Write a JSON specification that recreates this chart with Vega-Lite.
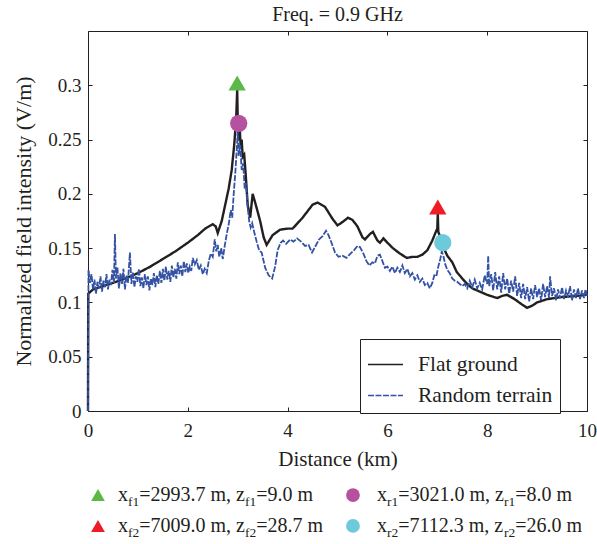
{
  "$schema": "https://vega.github.io/schema/vega-lite/v6.json",
  "width": 499,
  "height": 380,
  "autosize": {"type": "none"},
  "padding": {"left": 88, "top": 31, "right": 10, "bottom": 133},
  "title": {"text": "Freq. = 0.9 GHz", "fontSize": 20, "fontWeight": "normal", "font": "Liberation Serif", "color": "#231f20", "offset": 6, "anchor": "middle"},
  "config": {
    "font": "Liberation Serif",
    "view": {"stroke": "#231f20", "strokeWidth": 1},
    "axis": {"grid": false, "domain": false, "labelFlush": false, "tickColor": "#231f20", "labelColor": "#231f20", "titleColor": "#231f20", "titleFontWeight": "normal", "labelFont": "Liberation Serif", "titleFont": "Liberation Serif"},
    "legend": {"labelFont": "Liberation Serif"}
  },
  "datasets": {
    "lines": [
      {"d": 0, "v": 0, "s": "Flat ground"},
      {"d": 0.005, "v": 0.108, "s": "Flat ground"},
      {"d": 0.1, "v": 0.112, "s": "Flat ground"},
      {"d": 0.3, "v": 0.115, "s": "Flat ground"},
      {"d": 0.5, "v": 0.118, "s": "Flat ground"},
      {"d": 0.75, "v": 0.122, "s": "Flat ground"},
      {"d": 1.0, "v": 0.127, "s": "Flat ground"},
      {"d": 1.25, "v": 0.133, "s": "Flat ground"},
      {"d": 1.5, "v": 0.14, "s": "Flat ground"},
      {"d": 1.75, "v": 0.147, "s": "Flat ground"},
      {"d": 2.0, "v": 0.155, "s": "Flat ground"},
      {"d": 2.2, "v": 0.162, "s": "Flat ground"},
      {"d": 2.35, "v": 0.168, "s": "Flat ground"},
      {"d": 2.5, "v": 0.172, "s": "Flat ground"},
      {"d": 2.56, "v": 0.17, "s": "Flat ground"},
      {"d": 2.6, "v": 0.164, "s": "Flat ground"},
      {"d": 2.68, "v": 0.175, "s": "Flat ground"},
      {"d": 2.75, "v": 0.19, "s": "Flat ground"},
      {"d": 2.82, "v": 0.205, "s": "Flat ground"},
      {"d": 2.88, "v": 0.222, "s": "Flat ground"},
      {"d": 2.93, "v": 0.245, "s": "Flat ground"},
      {"d": 2.97, "v": 0.27, "s": "Flat ground"},
      {"d": 2.99, "v": 0.296, "s": "Flat ground"},
      {"d": 3.0, "v": 0.27, "s": "Flat ground"},
      {"d": 3.02, "v": 0.25, "s": "Flat ground"},
      {"d": 3.04, "v": 0.262, "s": "Flat ground"},
      {"d": 3.06, "v": 0.242, "s": "Flat ground"},
      {"d": 3.08, "v": 0.25, "s": "Flat ground"},
      {"d": 3.1, "v": 0.234, "s": "Flat ground"},
      {"d": 3.13, "v": 0.236, "s": "Flat ground"},
      {"d": 3.16, "v": 0.218, "s": "Flat ground"},
      {"d": 3.2, "v": 0.19, "s": "Flat ground"},
      {"d": 3.25, "v": 0.178, "s": "Flat ground"},
      {"d": 3.3, "v": 0.2, "s": "Flat ground"},
      {"d": 3.35, "v": 0.192, "s": "Flat ground"},
      {"d": 3.45, "v": 0.175, "s": "Flat ground"},
      {"d": 3.52, "v": 0.16, "s": "Flat ground"},
      {"d": 3.58, "v": 0.153, "s": "Flat ground"},
      {"d": 3.7, "v": 0.162, "s": "Flat ground"},
      {"d": 3.85, "v": 0.167, "s": "Flat ground"},
      {"d": 4.0, "v": 0.168, "s": "Flat ground"},
      {"d": 4.1, "v": 0.168, "s": "Flat ground"},
      {"d": 4.3, "v": 0.178, "s": "Flat ground"},
      {"d": 4.5, "v": 0.19, "s": "Flat ground"},
      {"d": 4.6, "v": 0.192, "s": "Flat ground"},
      {"d": 4.75, "v": 0.188, "s": "Flat ground"},
      {"d": 4.9, "v": 0.177, "s": "Flat ground"},
      {"d": 5.0, "v": 0.171, "s": "Flat ground"},
      {"d": 5.1, "v": 0.174, "s": "Flat ground"},
      {"d": 5.21, "v": 0.178, "s": "Flat ground"},
      {"d": 5.3, "v": 0.176, "s": "Flat ground"},
      {"d": 5.4, "v": 0.17, "s": "Flat ground"},
      {"d": 5.5, "v": 0.16, "s": "Flat ground"},
      {"d": 5.55, "v": 0.158, "s": "Flat ground"},
      {"d": 5.65, "v": 0.163, "s": "Flat ground"},
      {"d": 5.71, "v": 0.165, "s": "Flat ground"},
      {"d": 5.8, "v": 0.157, "s": "Flat ground"},
      {"d": 5.85, "v": 0.155, "s": "Flat ground"},
      {"d": 5.92, "v": 0.159, "s": "Flat ground"},
      {"d": 6.0, "v": 0.155, "s": "Flat ground"},
      {"d": 6.11, "v": 0.15, "s": "Flat ground"},
      {"d": 6.25, "v": 0.145, "s": "Flat ground"},
      {"d": 6.39, "v": 0.141, "s": "Flat ground"},
      {"d": 6.5, "v": 0.142, "s": "Flat ground"},
      {"d": 6.6, "v": 0.142, "s": "Flat ground"},
      {"d": 6.7, "v": 0.144, "s": "Flat ground"},
      {"d": 6.8, "v": 0.148, "s": "Flat ground"},
      {"d": 6.9, "v": 0.157, "s": "Flat ground"},
      {"d": 6.97, "v": 0.165, "s": "Flat ground"},
      {"d": 7.0, "v": 0.168, "s": "Flat ground"},
      {"d": 7.01, "v": 0.182, "s": "Flat ground"},
      {"d": 7.02, "v": 0.165, "s": "Flat ground"},
      {"d": 7.08, "v": 0.158, "s": "Flat ground"},
      {"d": 7.15, "v": 0.148, "s": "Flat ground"},
      {"d": 7.2, "v": 0.143, "s": "Flat ground"},
      {"d": 7.3, "v": 0.137, "s": "Flat ground"},
      {"d": 7.39, "v": 0.128, "s": "Flat ground"},
      {"d": 7.5, "v": 0.122, "s": "Flat ground"},
      {"d": 7.6, "v": 0.117, "s": "Flat ground"},
      {"d": 7.7, "v": 0.113, "s": "Flat ground"},
      {"d": 7.85, "v": 0.11, "s": "Flat ground"},
      {"d": 8.0, "v": 0.107, "s": "Flat ground"},
      {"d": 8.2, "v": 0.104, "s": "Flat ground"},
      {"d": 8.3, "v": 0.106, "s": "Flat ground"},
      {"d": 8.4, "v": 0.107, "s": "Flat ground"},
      {"d": 8.55, "v": 0.103, "s": "Flat ground"},
      {"d": 8.7, "v": 0.098, "s": "Flat ground"},
      {"d": 8.8, "v": 0.095, "s": "Flat ground"},
      {"d": 8.9, "v": 0.097, "s": "Flat ground"},
      {"d": 9.0, "v": 0.1, "s": "Flat ground"},
      {"d": 9.2, "v": 0.103, "s": "Flat ground"},
      {"d": 9.5, "v": 0.105, "s": "Flat ground"},
      {"d": 9.8, "v": 0.106, "s": "Flat ground"},
      {"d": 10.0, "v": 0.107, "s": "Flat ground"},
      {"d": 0, "v": 0, "s": "Random terrain"},
      {"d": 0.01, "v": 0.13, "s": "Random terrain"},
      {"d": 0.04, "v": 0.118, "s": "Random terrain"},
      {"d": 0.07, "v": 0.126, "s": "Random terrain"},
      {"d": 0.1, "v": 0.112, "s": "Random terrain"},
      {"d": 0.13, "v": 0.121, "s": "Random terrain"},
      {"d": 0.16, "v": 0.108, "s": "Random terrain"},
      {"d": 0.19, "v": 0.119, "s": "Random terrain"},
      {"d": 0.22, "v": 0.113, "s": "Random terrain"},
      {"d": 0.25, "v": 0.124, "s": "Random terrain"},
      {"d": 0.28, "v": 0.11, "s": "Random terrain"},
      {"d": 0.31, "v": 0.12, "s": "Random terrain"},
      {"d": 0.34, "v": 0.114, "s": "Random terrain"},
      {"d": 0.37, "v": 0.126, "s": "Random terrain"},
      {"d": 0.4, "v": 0.112, "s": "Random terrain"},
      {"d": 0.43, "v": 0.121, "s": "Random terrain"},
      {"d": 0.46, "v": 0.116, "s": "Random terrain"},
      {"d": 0.49, "v": 0.13, "s": "Random terrain"},
      {"d": 0.52, "v": 0.118, "s": "Random terrain"},
      {"d": 0.54, "v": 0.163, "s": "Random terrain"},
      {"d": 0.56, "v": 0.122, "s": "Random terrain"},
      {"d": 0.59, "v": 0.132, "s": "Random terrain"},
      {"d": 0.62, "v": 0.113, "s": "Random terrain"},
      {"d": 0.65, "v": 0.127, "s": "Random terrain"},
      {"d": 0.68, "v": 0.117, "s": "Random terrain"},
      {"d": 0.71, "v": 0.131, "s": "Random terrain"},
      {"d": 0.74, "v": 0.112, "s": "Random terrain"},
      {"d": 0.77, "v": 0.125, "s": "Random terrain"},
      {"d": 0.8, "v": 0.118, "s": "Random terrain"},
      {"d": 0.84, "v": 0.146, "s": "Random terrain"},
      {"d": 0.87, "v": 0.117, "s": "Random terrain"},
      {"d": 0.9, "v": 0.128, "s": "Random terrain"},
      {"d": 0.93, "v": 0.114, "s": "Random terrain"},
      {"d": 0.96, "v": 0.124, "s": "Random terrain"},
      {"d": 0.99, "v": 0.119, "s": "Random terrain"},
      {"d": 1.02, "v": 0.131, "s": "Random terrain"},
      {"d": 1.05, "v": 0.115, "s": "Random terrain"},
      {"d": 1.08, "v": 0.123, "s": "Random terrain"},
      {"d": 1.11, "v": 0.113, "s": "Random terrain"},
      {"d": 1.14, "v": 0.126, "s": "Random terrain"},
      {"d": 1.17, "v": 0.116, "s": "Random terrain"},
      {"d": 1.2, "v": 0.124, "s": "Random terrain"},
      {"d": 1.23, "v": 0.111, "s": "Random terrain"},
      {"d": 1.26, "v": 0.122, "s": "Random terrain"},
      {"d": 1.29, "v": 0.116, "s": "Random terrain"},
      {"d": 1.32, "v": 0.127, "s": "Random terrain"},
      {"d": 1.35, "v": 0.114, "s": "Random terrain"},
      {"d": 1.38, "v": 0.125, "s": "Random terrain"},
      {"d": 1.41, "v": 0.117, "s": "Random terrain"},
      {"d": 1.44, "v": 0.129, "s": "Random terrain"},
      {"d": 1.47, "v": 0.118, "s": "Random terrain"},
      {"d": 1.5, "v": 0.131, "s": "Random terrain"},
      {"d": 1.53, "v": 0.12, "s": "Random terrain"},
      {"d": 1.56, "v": 0.133, "s": "Random terrain"},
      {"d": 1.59, "v": 0.121, "s": "Random terrain"},
      {"d": 1.62, "v": 0.129, "s": "Random terrain"},
      {"d": 1.65, "v": 0.119, "s": "Random terrain"},
      {"d": 1.68, "v": 0.134, "s": "Random terrain"},
      {"d": 1.71, "v": 0.123, "s": "Random terrain"},
      {"d": 1.74, "v": 0.131, "s": "Random terrain"},
      {"d": 1.77, "v": 0.122, "s": "Random terrain"},
      {"d": 1.8, "v": 0.137, "s": "Random terrain"},
      {"d": 1.83, "v": 0.126, "s": "Random terrain"},
      {"d": 1.86, "v": 0.134, "s": "Random terrain"},
      {"d": 1.89, "v": 0.124, "s": "Random terrain"},
      {"d": 1.92, "v": 0.138, "s": "Random terrain"},
      {"d": 1.95, "v": 0.128, "s": "Random terrain"},
      {"d": 1.98, "v": 0.136, "s": "Random terrain"},
      {"d": 2.01, "v": 0.127, "s": "Random terrain"},
      {"d": 2.04, "v": 0.133, "s": "Random terrain"},
      {"d": 2.07, "v": 0.129, "s": "Random terrain"},
      {"d": 2.1, "v": 0.141, "s": "Random terrain"},
      {"d": 2.14, "v": 0.135, "s": "Random terrain"},
      {"d": 2.18, "v": 0.139, "s": "Random terrain"},
      {"d": 2.22, "v": 0.13, "s": "Random terrain"},
      {"d": 2.26, "v": 0.134, "s": "Random terrain"},
      {"d": 2.3, "v": 0.126, "s": "Random terrain"},
      {"d": 2.34, "v": 0.131, "s": "Random terrain"},
      {"d": 2.38, "v": 0.127, "s": "Random terrain"},
      {"d": 2.42, "v": 0.138, "s": "Random terrain"},
      {"d": 2.46, "v": 0.145, "s": "Random terrain"},
      {"d": 2.5, "v": 0.142, "s": "Random terrain"},
      {"d": 2.54, "v": 0.158, "s": "Random terrain"},
      {"d": 2.57, "v": 0.147, "s": "Random terrain"},
      {"d": 2.6, "v": 0.153, "s": "Random terrain"},
      {"d": 2.63, "v": 0.142, "s": "Random terrain"},
      {"d": 2.67, "v": 0.15, "s": "Random terrain"},
      {"d": 2.7, "v": 0.14, "s": "Random terrain"},
      {"d": 2.74, "v": 0.152, "s": "Random terrain"},
      {"d": 2.78, "v": 0.163, "s": "Random terrain"},
      {"d": 2.82, "v": 0.172, "s": "Random terrain"},
      {"d": 2.86, "v": 0.185, "s": "Random terrain"},
      {"d": 2.89, "v": 0.178, "s": "Random terrain"},
      {"d": 2.92, "v": 0.2, "s": "Random terrain"},
      {"d": 2.95, "v": 0.218, "s": "Random terrain"},
      {"d": 2.98, "v": 0.24, "s": "Random terrain"},
      {"d": 3.0, "v": 0.257, "s": "Random terrain"},
      {"d": 3.02, "v": 0.235, "s": "Random terrain"},
      {"d": 3.05, "v": 0.245, "s": "Random terrain"},
      {"d": 3.08, "v": 0.222, "s": "Random terrain"},
      {"d": 3.11, "v": 0.228, "s": "Random terrain"},
      {"d": 3.14, "v": 0.205, "s": "Random terrain"},
      {"d": 3.17, "v": 0.21, "s": "Random terrain"},
      {"d": 3.2, "v": 0.188, "s": "Random terrain"},
      {"d": 3.23, "v": 0.175, "s": "Random terrain"},
      {"d": 3.26, "v": 0.169, "s": "Random terrain"},
      {"d": 3.29, "v": 0.173, "s": "Random terrain"},
      {"d": 3.33, "v": 0.165, "s": "Random terrain"},
      {"d": 3.38, "v": 0.156, "s": "Random terrain"},
      {"d": 3.43, "v": 0.148, "s": "Random terrain"},
      {"d": 3.48, "v": 0.146, "s": "Random terrain"},
      {"d": 3.55, "v": 0.132, "s": "Random terrain"},
      {"d": 3.62, "v": 0.125, "s": "Random terrain"},
      {"d": 3.69, "v": 0.122, "s": "Random terrain"},
      {"d": 3.75, "v": 0.133, "s": "Random terrain"},
      {"d": 3.8, "v": 0.148, "s": "Random terrain"},
      {"d": 3.86, "v": 0.155, "s": "Random terrain"},
      {"d": 3.91, "v": 0.157, "s": "Random terrain"},
      {"d": 3.97, "v": 0.154, "s": "Random terrain"},
      {"d": 4.05, "v": 0.158, "s": "Random terrain"},
      {"d": 4.12, "v": 0.156, "s": "Random terrain"},
      {"d": 4.19, "v": 0.159, "s": "Random terrain"},
      {"d": 4.27, "v": 0.156, "s": "Random terrain"},
      {"d": 4.35, "v": 0.152, "s": "Random terrain"},
      {"d": 4.42, "v": 0.153, "s": "Random terrain"},
      {"d": 4.49, "v": 0.146, "s": "Random terrain"},
      {"d": 4.56, "v": 0.152, "s": "Random terrain"},
      {"d": 4.63, "v": 0.158, "s": "Random terrain"},
      {"d": 4.7, "v": 0.161, "s": "Random terrain"},
      {"d": 4.77, "v": 0.166, "s": "Random terrain"},
      {"d": 4.82, "v": 0.162, "s": "Random terrain"},
      {"d": 4.88, "v": 0.155, "s": "Random terrain"},
      {"d": 4.95, "v": 0.146, "s": "Random terrain"},
      {"d": 5.02, "v": 0.142, "s": "Random terrain"},
      {"d": 5.1, "v": 0.143, "s": "Random terrain"},
      {"d": 5.18, "v": 0.141, "s": "Random terrain"},
      {"d": 5.26, "v": 0.145, "s": "Random terrain"},
      {"d": 5.33, "v": 0.148, "s": "Random terrain"},
      {"d": 5.4, "v": 0.152, "s": "Random terrain"},
      {"d": 5.45, "v": 0.151, "s": "Random terrain"},
      {"d": 5.52, "v": 0.145, "s": "Random terrain"},
      {"d": 5.58, "v": 0.138, "s": "Random terrain"},
      {"d": 5.64, "v": 0.134, "s": "Random terrain"},
      {"d": 5.7, "v": 0.137, "s": "Random terrain"},
      {"d": 5.75, "v": 0.136, "s": "Random terrain"},
      {"d": 5.8, "v": 0.143, "s": "Random terrain"},
      {"d": 5.85, "v": 0.144, "s": "Random terrain"},
      {"d": 5.9, "v": 0.138, "s": "Random terrain"},
      {"d": 5.95, "v": 0.132, "s": "Random terrain"},
      {"d": 6.0, "v": 0.133, "s": "Random terrain"},
      {"d": 6.05, "v": 0.129, "s": "Random terrain"},
      {"d": 6.1, "v": 0.133, "s": "Random terrain"},
      {"d": 6.15, "v": 0.127, "s": "Random terrain"},
      {"d": 6.2, "v": 0.132, "s": "Random terrain"},
      {"d": 6.25, "v": 0.128, "s": "Random terrain"},
      {"d": 6.3, "v": 0.134, "s": "Random terrain"},
      {"d": 6.35, "v": 0.127, "s": "Random terrain"},
      {"d": 6.4, "v": 0.131, "s": "Random terrain"},
      {"d": 6.45, "v": 0.124, "s": "Random terrain"},
      {"d": 6.5, "v": 0.127, "s": "Random terrain"},
      {"d": 6.55, "v": 0.121, "s": "Random terrain"},
      {"d": 6.6, "v": 0.125, "s": "Random terrain"},
      {"d": 6.65, "v": 0.119, "s": "Random terrain"},
      {"d": 6.7, "v": 0.122, "s": "Random terrain"},
      {"d": 6.75, "v": 0.116, "s": "Random terrain"},
      {"d": 6.8, "v": 0.118, "s": "Random terrain"},
      {"d": 6.85, "v": 0.113, "s": "Random terrain"},
      {"d": 6.9, "v": 0.118, "s": "Random terrain"},
      {"d": 6.94, "v": 0.125, "s": "Random terrain"},
      {"d": 6.98, "v": 0.124, "s": "Random terrain"},
      {"d": 7.02, "v": 0.133, "s": "Random terrain"},
      {"d": 7.06, "v": 0.14, "s": "Random terrain"},
      {"d": 7.09, "v": 0.147, "s": "Random terrain"},
      {"d": 7.12, "v": 0.143, "s": "Random terrain"},
      {"d": 7.16, "v": 0.135, "s": "Random terrain"},
      {"d": 7.2, "v": 0.13, "s": "Random terrain"},
      {"d": 7.25, "v": 0.127, "s": "Random terrain"},
      {"d": 7.3, "v": 0.122, "s": "Random terrain"},
      {"d": 7.35, "v": 0.12, "s": "Random terrain"},
      {"d": 7.4, "v": 0.119, "s": "Random terrain"},
      {"d": 7.45, "v": 0.117, "s": "Random terrain"},
      {"d": 7.5, "v": 0.115, "s": "Random terrain"},
      {"d": 7.55, "v": 0.117, "s": "Random terrain"},
      {"d": 7.6, "v": 0.113, "s": "Random terrain"},
      {"d": 7.65, "v": 0.12, "s": "Random terrain"},
      {"d": 7.7, "v": 0.114, "s": "Random terrain"},
      {"d": 7.75, "v": 0.121, "s": "Random terrain"},
      {"d": 7.8, "v": 0.113, "s": "Random terrain"},
      {"d": 7.85, "v": 0.118, "s": "Random terrain"},
      {"d": 7.9, "v": 0.112, "s": "Random terrain"},
      {"d": 7.95, "v": 0.125, "s": "Random terrain"},
      {"d": 8.0, "v": 0.117, "s": "Random terrain"},
      {"d": 8.02, "v": 0.143, "s": "Random terrain"},
      {"d": 8.04, "v": 0.115, "s": "Random terrain"},
      {"d": 8.08, "v": 0.126, "s": "Random terrain"},
      {"d": 8.12, "v": 0.111, "s": "Random terrain"},
      {"d": 8.16, "v": 0.128, "s": "Random terrain"},
      {"d": 8.2, "v": 0.112, "s": "Random terrain"},
      {"d": 8.24, "v": 0.124, "s": "Random terrain"},
      {"d": 8.28, "v": 0.109, "s": "Random terrain"},
      {"d": 8.32, "v": 0.127, "s": "Random terrain"},
      {"d": 8.36, "v": 0.112, "s": "Random terrain"},
      {"d": 8.4, "v": 0.122, "s": "Random terrain"},
      {"d": 8.44, "v": 0.108, "s": "Random terrain"},
      {"d": 8.48, "v": 0.12, "s": "Random terrain"},
      {"d": 8.52, "v": 0.11, "s": "Random terrain"},
      {"d": 8.56, "v": 0.124, "s": "Random terrain"},
      {"d": 8.6, "v": 0.106, "s": "Random terrain"},
      {"d": 8.64, "v": 0.118, "s": "Random terrain"},
      {"d": 8.68, "v": 0.104, "s": "Random terrain"},
      {"d": 8.72, "v": 0.117, "s": "Random terrain"},
      {"d": 8.76, "v": 0.103, "s": "Random terrain"},
      {"d": 8.8, "v": 0.114, "s": "Random terrain"},
      {"d": 8.84, "v": 0.101, "s": "Random terrain"},
      {"d": 8.88, "v": 0.113, "s": "Random terrain"},
      {"d": 8.92, "v": 0.103, "s": "Random terrain"},
      {"d": 8.96, "v": 0.116, "s": "Random terrain"},
      {"d": 9.0, "v": 0.105, "s": "Random terrain"},
      {"d": 9.04, "v": 0.113, "s": "Random terrain"},
      {"d": 9.08, "v": 0.102, "s": "Random terrain"},
      {"d": 9.12, "v": 0.117, "s": "Random terrain"},
      {"d": 9.16, "v": 0.105, "s": "Random terrain"},
      {"d": 9.2, "v": 0.115, "s": "Random terrain"},
      {"d": 9.24, "v": 0.104, "s": "Random terrain"},
      {"d": 9.26, "v": 0.124, "s": "Random terrain"},
      {"d": 9.3, "v": 0.106, "s": "Random terrain"},
      {"d": 9.34, "v": 0.113, "s": "Random terrain"},
      {"d": 9.38, "v": 0.102, "s": "Random terrain"},
      {"d": 9.42, "v": 0.112, "s": "Random terrain"},
      {"d": 9.46, "v": 0.104, "s": "Random terrain"},
      {"d": 9.5, "v": 0.114, "s": "Random terrain"},
      {"d": 9.54, "v": 0.103, "s": "Random terrain"},
      {"d": 9.58, "v": 0.111, "s": "Random terrain"},
      {"d": 9.62, "v": 0.105, "s": "Random terrain"},
      {"d": 9.66, "v": 0.115, "s": "Random terrain"},
      {"d": 9.7, "v": 0.102, "s": "Random terrain"},
      {"d": 9.74, "v": 0.112, "s": "Random terrain"},
      {"d": 9.78, "v": 0.104, "s": "Random terrain"},
      {"d": 9.82, "v": 0.113, "s": "Random terrain"},
      {"d": 9.86, "v": 0.103, "s": "Random terrain"},
      {"d": 9.9, "v": 0.111, "s": "Random terrain"},
      {"d": 9.94, "v": 0.104, "s": "Random terrain"},
      {"d": 9.97, "v": 0.112, "s": "Random terrain"},
      {"d": 10.0, "v": 0.106, "s": "Random terrain"}
    ],
    "markers": [
      {"d": 2.99, "v": 0.302, "id": "f1", "where": "plot"},
      {"d": 7.01, "v": 0.188, "id": "f2", "where": "plot"},
      {"d": 3.02, "v": 0.265, "id": "r1", "where": "plot"},
      {"d": 7.11, "v": 0.155, "id": "r2", "where": "plot"},
      {"d": 0.2, "v": -0.0774, "id": "f1", "where": "legend"},
      {"d": 0.2, "v": -0.1059, "id": "f2", "where": "legend"},
      {"d": 5.31, "v": -0.0774, "id": "r1", "where": "legend"},
      {"d": 5.31, "v": -0.1059, "id": "r2", "where": "legend"}
    ],
    "notes": [
      {"d": 0.601, "v": -0.0774, "t": "x", "k": "main"},
      {"d": 0.802, "v": -0.0774, "t": "f1", "k": "sub"},
      {"d": 1.026, "v": -0.0774, "t": "=2993.7 m, z", "k": "main"},
      {"d": 3.146, "v": -0.0774, "t": "f1", "k": "sub"},
      {"d": 3.371, "v": -0.0774, "t": "=9.0 m", "k": "main"},
      {"d": 5.792, "v": -0.0774, "t": "x", "k": "main"},
      {"d": 5.992, "v": -0.0774, "t": "r1", "k": "sub"},
      {"d": 6.216, "v": -0.0774, "t": "=3021.0 m, z", "k": "main"},
      {"d": 8.337, "v": -0.0774, "t": "r1", "k": "sub"},
      {"d": 8.561, "v": -0.0774, "t": "=8.0 m", "k": "main"},
      {"d": 0.601, "v": -0.1059, "t": "x", "k": "main"},
      {"d": 0.802, "v": -0.1059, "t": "f2", "k": "sub"},
      {"d": 1.026, "v": -0.1059, "t": "=7009.0 m, z", "k": "main"},
      {"d": 3.146, "v": -0.1059, "t": "f2", "k": "sub"},
      {"d": 3.371, "v": -0.1059, "t": "=28.7 m", "k": "main"},
      {"d": 5.792, "v": -0.1059, "t": "x", "k": "main"},
      {"d": 5.992, "v": -0.1059, "t": "r2", "k": "sub"},
      {"d": 6.216, "v": -0.1059, "t": "=7112.3 m, z", "k": "main"},
      {"d": 8.337, "v": -0.1059, "t": "r2", "k": "sub"},
      {"d": 8.561, "v": -0.1059, "t": "=26.0 m", "k": "main"}
    ]
  },
  "layer": [
    {
      "data": {"name": "lines"},
      "transform": [{"filter": "datum.s === 'Flat ground'"}],
      "mark": {"type": "line", "strokeWidth": 2.4, "interpolate": "linear"},
      "encoding": {
        "x": {"field": "d", "type": "quantitative", "scale": {"domain": [0, 10], "nice": false, "zero": false},
          "axis": {"orient": "bottom", "values": [0, 2, 4, 6, 8, 10], "format": "d", "title": "Distance (km)", "tickSize": -4, "labelPadding": 14, "labelFontSize": 19, "titleFontSize": 21, "titlePadding": 8}},
        "y": {"field": "v", "type": "quantitative", "scale": {"domain": [0, 0.35], "nice": false, "zero": false},
          "axis": {"orient": "left", "values": [0, 0.05, 0.1, 0.15, 0.2, 0.25, 0.3], "format": ".2~f", "title": "Normalized field intensity (V/m)", "tickSize": -4, "labelPadding": 11, "labelFontSize": 19, "titleFontSize": 22, "titlePadding": 12}},
        "color": {"field": "s", "type": "nominal", "scale": {"domain": ["Flat ground", "Random terrain"], "range": ["#231f20", "#3352a3"]},
          "legend": {"title": null, "orient": "none", "legendX": 272, "legendY": 308, "strokeColor": "#231f20", "fillColor": "white", "padding": 7, "labelFontSize": 21.5, "labelColor": "#231f20", "labelOffset": 14, "labelLimit": 400, "symbolType": "stroke", "symbolSize": 1225, "symbolStrokeWidth": 1.3, "rowPadding": 2, "cornerRadius": 0}},
        "strokeDash": {"field": "s", "type": "nominal", "scale": {"domain": ["Flat ground", "Random terrain"], "range": [[1, 0], [6, 1.5]]}, "legend": null}
      }
    },
    {
      "data": {"name": "lines"},
      "transform": [{"filter": "datum.s === 'Random terrain'"}],
      "mark": {"type": "line", "strokeWidth": 1.8},
      "encoding": {
        "x": {"field": "d", "type": "quantitative", "axis": {"orient": "top", "values": [0, 2, 4, 6, 8, 10], "labels": false, "title": null, "tickSize": -4}},
        "y": {"field": "v", "type": "quantitative", "axis": {"orient": "right", "values": [0, 0.05, 0.1, 0.15, 0.2, 0.25, 0.3], "labels": false, "title": null, "tickSize": -4}},
        "color": {"field": "s", "type": "nominal"},
        "strokeDash": {"field": "s", "type": "nominal", "legend": null}
      }
    },
    {
      "data": {"name": "markers"},
      "transform": [{"filter": "datum.where === 'plot'"}],
      "mark": {"type": "point", "filled": true, "opacity": 1, "size": 300, "strokeWidth": 0},
      "encoding": {
        "x": {"field": "d", "type": "quantitative", "axis": null},
        "y": {"field": "v", "type": "quantitative", "axis": null},
        "shape": {"field": "id", "type": "nominal", "scale": {"domain": ["f1", "f2", "r1", "r2"], "range": ["triangle-up", "triangle-up", "circle", "circle"]}, "legend": null},
        "fill": {"field": "id", "type": "nominal", "scale": {"domain": ["f1", "f2", "r1", "r2"], "range": ["#5bb947", "#ee1c25", "#b5519f", "#6dcadb"]}, "legend": null}
      }
    },
    {
      "data": {"name": "markers"},
      "transform": [{"filter": "datum.where === 'legend'"}],
      "mark": {"type": "point", "filled": true, "opacity": 1, "size": 190, "strokeWidth": 0},
      "encoding": {
        "x": {"field": "d", "type": "quantitative", "axis": null},
        "y": {"field": "v", "type": "quantitative", "axis": null},
        "shape": {"field": "id", "type": "nominal", "legend": null},
        "fill": {"field": "id", "type": "nominal", "legend": null}
      }
    },
    {
      "data": {"name": "notes"},
      "transform": [{"filter": "datum.k === 'main'"}],
      "mark": {"type": "text", "align": "left", "baseline": "middle", "fontSize": 20, "font": "Liberation Serif", "color": "#231f20"},
      "encoding": {
        "x": {"field": "d", "type": "quantitative", "axis": null},
        "y": {"field": "v", "type": "quantitative", "axis": null},
        "text": {"field": "t"}
      }
    },
    {
      "data": {"name": "notes"},
      "transform": [{"filter": "datum.k === 'sub'"}],
      "mark": {"type": "text", "align": "left", "baseline": "middle", "fontSize": 13.5, "dy": 7, "font": "Liberation Serif", "color": "#231f20"},
      "encoding": {
        "x": {"field": "d", "type": "quantitative", "axis": null},
        "y": {"field": "v", "type": "quantitative", "axis": null},
        "text": {"field": "t"}
      }
    }
  ],
  "resolve": {"axis": {"x": "independent", "y": "independent"}}
}
